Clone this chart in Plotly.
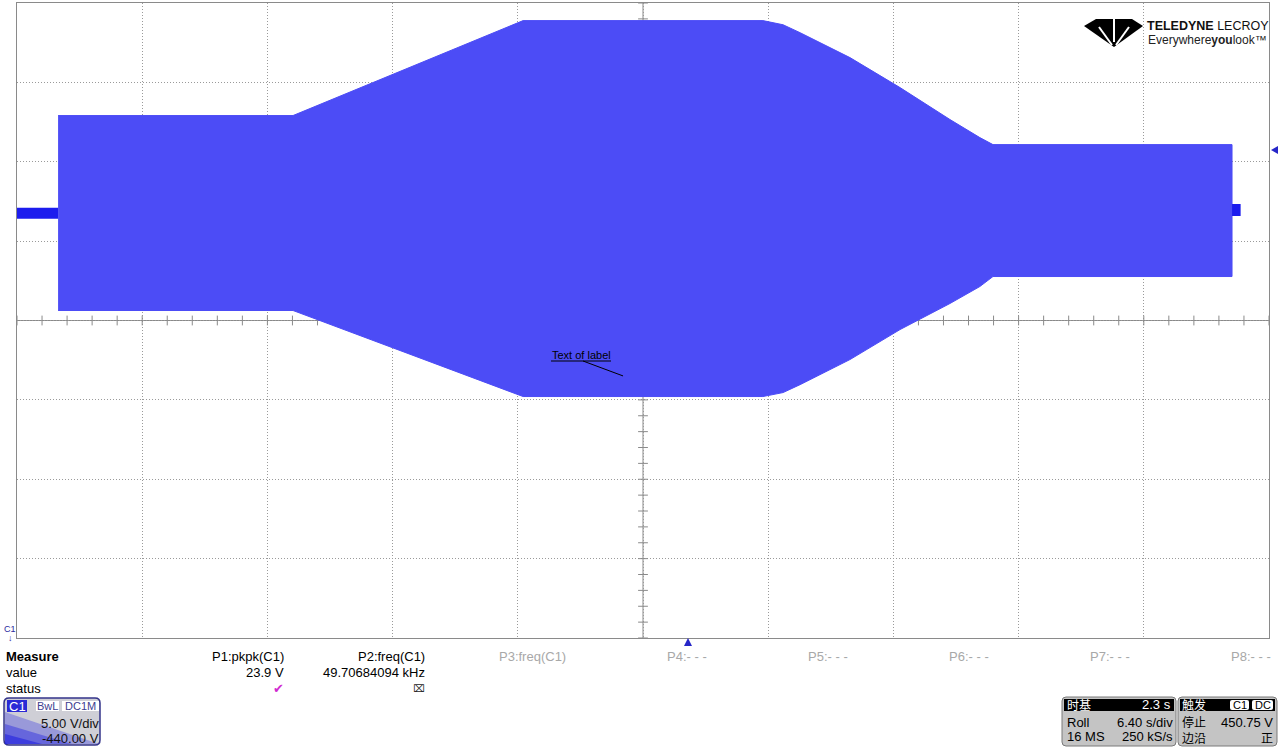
import plotly.graph_objects as go
import numpy as np

# ---------------- data (read from the screen) ----------------
# time axis: 6.40 s/div, 10 div ; vertical: 5.00 V/div, offset -440 V (centre = 440 V)
t_env = [-29.90, -17.89, -6.13, 6.13, 7.16, 8.03, 10.58, 13.14, 15.69, 17.22, 17.89, 30.11]
v_top = [452.91, 452.91, 458.89, 458.89, 458.63, 458.13, 456.56, 454.67, 452.66, 451.52, 451.08, 451.08]
v_bot = [440.63, 440.63, 435.21, 435.21, 435.46, 435.96, 437.54, 439.43, 441.07, 442.14, 442.77, 442.77]
t_pre = [-32.0, -29.90]
v_pre = [446.75, 446.75]
t_post = [30.11, 30.55]
v_post = [446.96, 446.96]

label_t, label_v = -1.02, 436.54
trigger_level = 450.75

meas_names = ["P1:pkpk(C1)", "P2:freq(C1)", "P3:freq(C1)", "P4:- - -", "P5:- - -", "P6:- - -", "P7:- - -", "P8:- - -"]
meas_values = ["23.9 V", "49.70684094 kHz"]

# ---------------- layout helpers ----------------
W, H = 1280, 747
L, R, T, B = 17, 1269, 3, 638
FONT = "Liberation Sans, Arial, sans-serif"
CJK = "Noto Sans CJK SC, Liberation Sans, sans-serif"


def X(x):
    return (x - L) / (R - L)


def Y(y):
    return (B - y) / (B - T)


def DX(t):
    return 643 + t / 6.4 * 125.2


def DY(v):
    return 321 - (v - 440) / 5 * 79.375


shapes = []
annotations = []


def txt(x, y, s, size=13, color="black", anchor="left", family=FONT):
    annotations.append(dict(x=X(x), y=Y(y), xref="paper", yref="paper", text=s,
                            showarrow=False, xanchor=anchor, yanchor="middle",
                            borderpad=0, font=dict(size=size, color=color, family=family)))


def rect(x0, y0, x1, y1, fill, line=None, lw=0, opacity=1):
    shapes.append(dict(type="rect", xref="paper", yref="paper", x0=X(x0), x1=X(x1),
                       y0=Y(y1), y1=Y(y0), fillcolor=fill, opacity=opacity,
                       line=dict(width=lw, color=line or fill), layer="above"))


def poly(pts, fill, opacity=1, lw=0, line=None):
    d = "M " + " L ".join(f"{X(a):.5f},{Y(b):.5f}" for a, b in pts) + " Z"
    shapes.append(dict(type="path", xref="paper", yref="paper", path=d, fillcolor=fill,
                       opacity=opacity, line=dict(width=lw, color=line or fill), layer="above"))


def rrect(x0, y0, x1, y1, r, fill, line=None, lw=1):
    d = (f"M {X(x0 + r)},{Y(y0)} L {X(x1 - r)},{Y(y0)} Q {X(x1)},{Y(y0)} {X(x1)},{Y(y0 + r)} "
         f"L {X(x1)},{Y(y1 - r)} Q {X(x1)},{Y(y1)} {X(x1 - r)},{Y(y1)} "
         f"L {X(x0 + r)},{Y(y1)} Q {X(x0)},{Y(y1)} {X(x0)},{Y(y1 - r)} "
         f"L {X(x0)},{Y(y0 + r)} Q {X(x0)},{Y(y0)} {X(x0 + r)},{Y(y0)} Z")
    shapes.append(dict(type="path", xref="paper", yref="paper", path=d, fillcolor=fill,
                       line=dict(width=lw, color=line or fill), layer="above"))


def seg(x0, y0, x1, y1, color="black", w=1):
    shapes.append(dict(type="line", xref="paper", yref="paper", x0=X(x0), y0=Y(y0),
                       x1=X(x1), y1=Y(y1), line=dict(color=color, width=w), layer="above"))


# ---------------- figure ----------------
fig = go.Figure()

GRID = "#9a9a9a"
CENTER = "#8a8a8a"

# centre graticule ticks (0.2 div)
tick_x = np.arange(-32, 32.001, 6.4 / 5)
tick_y = np.arange(420, 460.001, 1.0)
fig.add_trace(go.Scatter(x=tick_x, y=[440] * len(tick_x), mode="markers", hoverinfo="skip",
                         marker=dict(symbol="line-ns", size=7, line=dict(width=1, color=CENTER))))
fig.add_trace(go.Scatter(x=[0] * len(tick_y), y=tick_y, mode="markers", hoverinfo="skip",
                         marker=dict(symbol="line-ew", size=7, line=dict(width=1, color=CENTER))))

FILL = "rgb(76,76,246)"
fig.add_trace(go.Scatter(x=t_env + t_env[::-1], y=v_top + v_bot[::-1], fill="toself",
                         fillcolor=FILL, mode="lines", line=dict(width=1, color=FILL),
                         hoverinfo="skip"))
fig.add_trace(go.Scatter(x=t_pre, y=v_pre, mode="lines", line=dict(width=11, color="rgb(28,28,238)"),
                         hoverinfo="skip"))
fig.add_trace(go.Scatter(x=t_post, y=v_post, mode="lines", line=dict(width=12, color="rgb(28,28,238)"),
                         hoverinfo="skip"))

# centre cross (below traces)
shapes.append(dict(type="line", xref="x", yref="y", x0=0, x1=0, y0=420, y1=460,
                   line=dict(color=CENTER, width=1), layer="below"))
shapes.append(dict(type="line", xref="x", yref="y", x0=-32, x1=32, y0=440, y1=440,
                   line=dict(color=CENTER, width=1), layer="below"))

# label on the waveform
txt(551, 355, "Text of label", size=11, color="black")
seg(551, 361, 611, 361, "black", 1)
seg(583, 361, DX(label_t), DY(label_v), "black", 1)

# logo
poly([(1084, 26), (1096, 19), (1132, 19), (1143, 26), (1114, 47)], "black")
seg(1099, 27, 1112, 45, "white", 2)
seg(1129, 27, 1116, 45, "white", 2)
seg(1114, 19, 1114, 42, "white", 2)
txt(1146, 26, "<b>TELEDYNE</b> LECROY", size=12.5, color="#111")
txt(1147, 40, "Everywhere<b>you</b>look\u2122", size=12, color="#222")

# markers
poly([(684, 646), (692, 646), (688, 638)], "#2626c8")
poly([(1271, 150), (1278, 146), (1278, 154)], "#2626c8")
txt(10, 629, "C1", size=9, color="#2a2aa0", anchor="center")
txt(10, 638, "\u2193", size=9, color="#2a2aa0", anchor="center")

# measure table
txt(5, 657, "<b>Measure</b>")
txt(5, 673, "value")
txt(5, 689, "status")
name_right = [285, 426, 567, 708, 849, 990, 1131, 1272]
for i, (nm, xr) in enumerate(zip(meas_names, name_right)):
    txt(xr, 657, nm, color="black" if i < 2 else "#a8a8a8", anchor="right")
for v, xr in zip(meas_values, name_right):
    txt(xr, 673, v, anchor="right")
txt(278, 688, "\u2714", size=13, color="#d02ad0", anchor="center", family="DejaVu Sans")
txt(419, 688, "\u2327", size=10, color="#222", anchor="center", family="DejaVu Sans")

# channel descriptor box
rrect(4, 698, 100, 745, 5, "#cfcfd6", "#34348a", 1.5)
poly([(5, 744), (5, 712), (99, 744)], "#3434e0", opacity=0.35)
poly([(5, 744), (5, 724), (72, 744)], "#2828e0", opacity=0.45)
poly([(5, 744), (5, 734), (42, 744)], "#1c1ce0", opacity=0.55)
rect(7, 700, 27, 712, "#2a2ad6")
txt(17, 706, "C1", size=13, color="white", anchor="center")
rect(36, 701, 59, 711, "white")
txt(47.5, 706, "BwL", size=11, color="#404090", anchor="center")
rect(62, 701, 99, 711, "white")
txt(80.5, 706, "DC1M", size=11, color="#404090", anchor="center")
txt(100, 723, "5.00 V/div", anchor="right", color="#111")
txt(100, 738, "-440.00 V", anchor="right", color="#111")

# timebase box
rrect(1062, 697, 1176, 746, 4, "#c4c4c4", "#7a7a7a", 1)
rect(1064, 699, 1174, 711, "black")
txt(1066, 705, "时基", size=12, color="white", family=CJK)
txt(1172, 705, "2.3 s", size=13, color="white", anchor="right")
txt(1066, 722, "Roll", size=13)
txt(1174, 722, "6.40 s/div", size=13, anchor="right")
txt(1066, 737, "16 MS", size=13)
txt(1174, 737, "250 kS/s", size=13, anchor="right")

# trigger box
rrect(1178, 697, 1277, 746, 4, "#c4c4c4", "#7a7a7a", 1)
rect(1180, 699, 1275, 711, "black")
txt(1181, 705, "触发", size=12, color="white", family=CJK)
rrect(1230, 700, 1249, 710, 2, "white", "white", 0)
txt(1239.5, 705, "C1", size=11, color="black", anchor="center")
rrect(1252, 700, 1273, 710, 2, "white", "white", 0)
txt(1262.5, 705, "DC", size=11, color="black", anchor="center")
txt(1181, 721.5, "停止", size=12, family=CJK)
txt(1274, 722, f"{trigger_level:.2f} V", size=13, anchor="right")
txt(1181, 737.5, "边沿", size=12, family=CJK)
txt(1274, 737.5, "正", size=12, anchor="right", family=CJK)

axis_common = dict(showticklabels=False, ticks="", showgrid=True, gridcolor=GRID,
                   griddash="1px,2px", gridwidth=1, zeroline=False, showline=True,
                   mirror=True, linecolor=CENTER, linewidth=1, fixedrange=True)
fig.update_layout(
    width=W, height=H, autosize=False,
    margin=dict(l=L, r=W - R, t=T, b=H - B, pad=0),
    paper_bgcolor="white", plot_bgcolor="white", showlegend=False,
    xaxis=dict(range=[-32, 32], tick0=0, dtick=6.4, **axis_common),
    yaxis=dict(range=[420, 460], tick0=440, dtick=5, **axis_common),
    shapes=shapes, annotations=annotations,
    font=dict(family=FONT),
)

fig.write_html("out.html", config={"displayModeBar": False},
               post_script="document.body.style.margin='0';document.body.style.overflow='hidden';")
